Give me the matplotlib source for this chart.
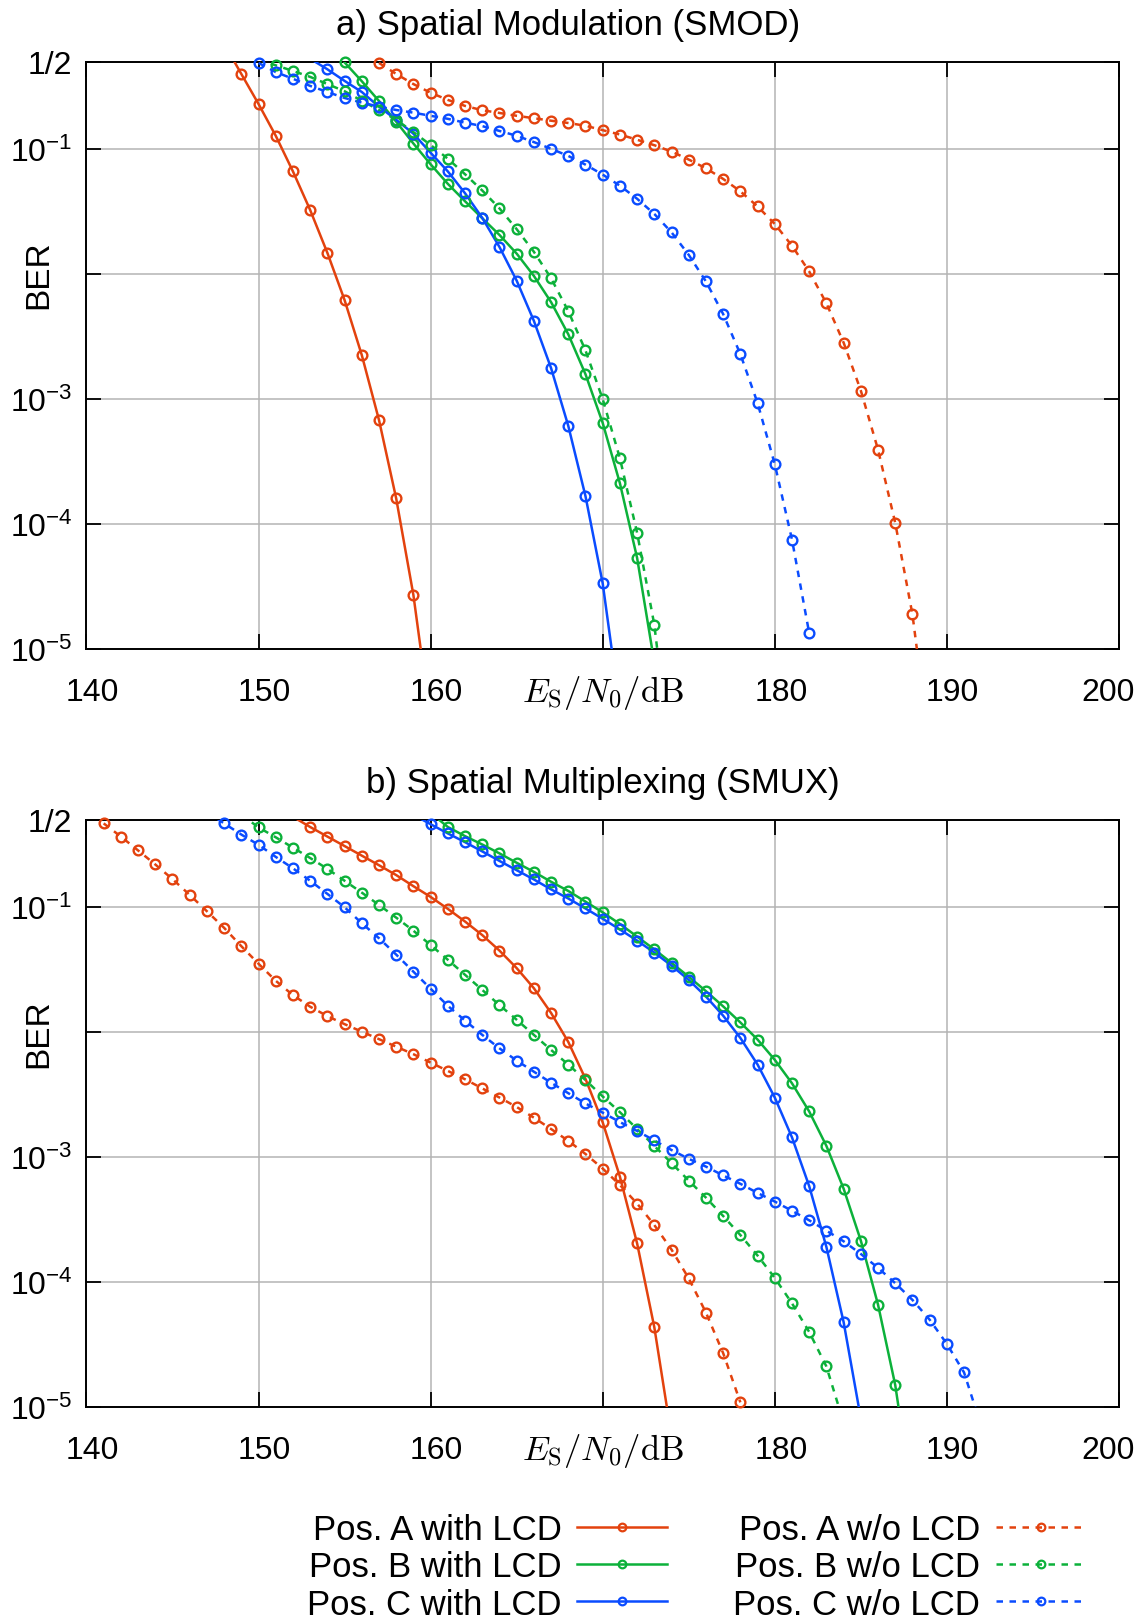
import matplotlib
matplotlib.use("Agg")
import matplotlib.pyplot as plt
import matplotlib.transforms as mtransforms
from matplotlib.lines import Line2D
from matplotlib.ticker import NullLocator
import numpy as np

plt.rcParams["font.family"] = ["Liberation Sans", "DejaVu Sans"]
plt.rcParams["mathtext.fontset"] = "custom"
plt.rcParams["mathtext.rm"] = "Liberation Sans"
plt.rcParams["mathtext.it"] = "Liberation Sans:italic"

# colours of the three positions
c_a = "#e3420e"
c_b = "#0cb13a"
c_c = "#0a4cff"

labels = ["Pos. A with LCD", "Pos. B with LCD", "Pos. C with LCD",
          "Pos. A w/o LCD", "Pos. B w/o LCD", "Pos. C w/o LCD"]

# ---- a) spatial modulation, BER over Es/N0 in dB
smod_a_lcd_x = list(range(148, 161))
smod_a_lcd = [0.70, 0.40, 0.230, 0.128, 0.0664, 0.0326, 0.0148, 0.0062, 2.25e-3,
              6.8e-4, 1.6e-4, 2.7e-5, 2.6e-6]
smod_b_lcd_x = list(range(155, 174))
smod_b_lcd = [0.495, 0.35, 0.243, 0.166, 0.111, 0.0757, 0.0528, 0.0383, 0.028, 0.0206,
              0.0146, 0.00968, 0.00597, 0.0033, 0.00158, 6.44e-4, 2.12e-4, 5.35e-5, 7.8e-6]
smod_c_lcd_x = list(range(153, 172))
smod_c_lcd = [0.53, 0.436, 0.352, 0.287, 0.219, 0.172, 0.133, 0.0936, 0.0664, 0.0444,
              0.0282, 0.0165, 0.00887, 0.00423, 0.00177, 6.1e-4, 1.67e-4, 3.35e-5, 3.3e-6]
smod_a_wo_x = list(range(157, 190))
smod_a_wo = [0.49, 0.40, 0.332, 0.283, 0.248, 0.222, 0.205, 0.195, 0.185, 0.177,
             0.169, 0.162, 0.154, 0.142, 0.131, 0.119, 0.1076, 0.0957, 0.0826, 0.0703,
             0.0578, 0.046, 0.0348, 0.0252, 0.01687, 0.0105, 5.84e-3, 2.83e-3, 1.17e-3,
             3.94e-4, 1.02e-4, 1.89e-5, 1.6e-6]
smod_b_wo_x = list(range(150, 175))
smod_b_wo = [0.52, 0.469, 0.423, 0.379, 0.332, 0.291, 0.244, 0.206, 0.172, 0.137,
             0.108, 0.0839, 0.063, 0.0467, 0.0336, 0.0229, 0.0151, 0.00927, 0.00505,
             0.00245, 1.0e-3, 3.36e-4, 8.5e-5, 1.56e-5, 1.1e-6]
smod_c_wo_x = list(range(150, 183))
smod_c_wo = [0.49, 0.414, 0.366, 0.321, 0.287, 0.257, 0.236, 0.219, 0.206, 0.196,
             0.185, 0.175, 0.163, 0.153, 0.140, 0.128, 0.114, 0.1007, 0.0883, 0.0752,
             0.0626, 0.0510, 0.0401, 0.0303, 0.0216, 0.01426, 0.00873, 0.00479, 0.00229,
             9.3e-4, 3.01e-4, 7.5e-5, 1.34e-5]

# ---- b) spatial multiplexing
smux_a_lcd_x = list(range(152, 175))
smux_a_lcd = [0.53, 0.439, 0.368, 0.309, 0.259, 0.217, 0.181, 0.1475, 0.121, 0.0971,
              0.0769, 0.0599, 0.045, 0.0326, 0.0225, 0.01426, 0.00836, 0.00423, 0.0019,
              6.98e-4, 2.04e-4, 4.35e-5, 5.8e-6]
smux_b_lcd_x = list(range(160, 189))
smux_b_lcd = [0.57, 0.439, 0.371, 0.318, 0.270, 0.227, 0.192, 0.160, 0.135, 0.111,
              0.091, 0.0735, 0.0582, 0.046, 0.0359, 0.0278, 0.0213, 0.0161, 0.01197,
              0.00873, 0.00601, 0.0039, 0.00232, 0.00123, 5.6e-4, 2.15e-4, 6.6e-5,
              1.5e-5, 1.8e-6]
smux_c_lcd_x = list(range(159, 186))
smux_c_lcd = [0.55, 0.462, 0.390, 0.332, 0.280, 0.235, 0.198, 0.167, 0.139, 0.1175,
              0.0978, 0.0809, 0.0664, 0.0541, 0.0434, 0.0341, 0.0262, 0.0193, 0.01356,
              0.0090, 0.00551, 0.0030, 0.00144, 5.86e-4, 1.91e-4, 4.79e-5, 8.1e-6]
smux_a_wo_x = list(range(141, 179))
smux_a_wo = [0.469, 0.368, 0.285, 0.220, 0.168, 0.1256, 0.0929, 0.0684, 0.0488, 0.0353,
             0.0258, 0.0198, 0.0160, 0.01345, 0.0116, 0.0101, 0.0088, 0.00766, 0.00667,
             0.00571, 0.0049, 0.0042, 0.00355, 0.0030, 0.00252, 0.00207, 0.00168,
             0.00135, 0.00106, 8.1e-4, 5.99e-4, 4.25e-4, 2.86e-4, 1.82e-4, 1.07e-4,
             5.7e-5, 2.7e-5, 1.09e-5]
smux_b_wo_x = list(range(149, 185))
smux_b_wo = [0.55, 0.436, 0.363, 0.300, 0.248, 0.203, 0.163, 0.131, 0.1044, 0.0826,
             0.0649, 0.0499, 0.0380, 0.0288, 0.0218, 0.0165, 0.01258, 0.00952, 0.00721,
             0.00551, 0.00414, 0.00306, 0.00229, 0.00168, 0.00123, 8.96e-4, 6.49e-4,
             4.74e-4, 3.38e-4, 2.38e-4, 1.63e-4, 1.08e-4, 6.76e-5, 3.99e-5, 2.11e-5, 7.5e-6]
smux_c_wo_x = list(range(147, 193))
smux_c_wo = [0.58, 0.469, 0.382, 0.316, 0.253, 0.205, 0.163, 0.128, 0.100, 0.0746,
             0.0565, 0.0418, 0.0305, 0.0223, 0.01626, 0.0124, 0.00952, 0.00743, 0.00593,
             0.00483, 0.00394, 0.00325, 0.00269, 0.00227, 0.00191, 0.00162, 0.00136,
             0.00114, 9.7e-4, 8.4e-4, 7.14e-4, 6.12e-4, 5.17e-4, 4.41e-4, 3.72e-4,
             3.12e-4, 2.58e-4, 2.12e-4, 1.68e-4, 1.30e-4, 9.8e-5, 7.2e-5, 5.0e-5,
             3.2e-5, 1.89e-5, 7e-6]

xticks = [140, 150, 160, 170, 180, 190, 200]
xticklabels = ["140", "150", "160", r"$E_{\mathrm{S}}/N_0/\mathrm{dB}$", "180", "190", "200"]
yticks = [0.5, 1e-1, 1e-2, 1e-3, 1e-4, 1e-5]
yticklabels = ["1/2", r"10$^{-1}$", "", r"10$^{-3}$", r"10$^{-4}$", r"10$^{-5}$"]
# small nudges of the x tick labels (pixels), last one pulled inside
xlabel_dx = [6, 6, 6, 0, 6, 5, -11]
xlabel_dy = [0, 0, 0, 4, 0, 0, 0]

dash = (0, (2.6, 2.6))
lw = 1.8
ms = 7


def draw(ax, series, title, title_x):
    for x, y, c, ls in series:
        x = np.array(x)
        y = np.array(y)
        ax.plot(x, y, color=c, ls=ls, lw=lw, zorder=3)
        m = (y <= 0.5) & (y >= 1e-5)
        ax.plot(x[m], y[m], "o", color=c, mfc="none", ms=ms, mew=1.7,
                clip_on=False, zorder=4)
    ax.set_yscale("log")
    ax.set_xlim(140, 200)
    ax.set_ylim(1e-5, 0.5)
    ax.set_xticks(xticks)
    ax.set_xticklabels(xticklabels)
    ax.set_yticks(yticks)
    ax.set_yticklabels(yticklabels)
    ax.yaxis.set_minor_locator(NullLocator())
    ax.grid(True, color="#b4b4b4", lw=1.1)
    ax.tick_params(direction="in", length=11, width=1.3, top=True, right=True,
                   labelsize=23)
    ax.tick_params(axis="x", pad=20)
    ax.tick_params(axis="y", pad=10)
    for lab, dx, dy in zip(ax.get_xticklabels(), xlabel_dx, xlabel_dy):
        off = mtransforms.ScaledTranslation(dx / 100, dy / 100, ax.figure.dpi_scale_trans)
        lab.set_transform(lab.get_transform() + off)
    xl = ax.get_xticklabels()[3]
    xl.set_math_fontfamily("cm")
    xl.set_fontsize(25)
    for s in ax.spines.values():
        s.set_linewidth(1.4)
    ax.text(-0.046, 0.6384, "BER", rotation=90, ha="center", va="center",
            fontsize=24, transform=ax.transAxes)
    ax.text(title_x, 1.064, title, ha="center", va="center", fontsize=25,
            transform=ax.transAxes)


fig = plt.figure(figsize=(11.42, 16.24), dpi=100)
ax_a = fig.add_axes([0.0757, 0.5998, 0.9041, 0.3615])
ax_b = fig.add_axes([0.0757, 0.1330, 0.9041, 0.3615])

draw(ax_a, [
    (smod_a_lcd_x, smod_a_lcd, c_a, "-"),
    (smod_b_lcd_x, smod_b_lcd, c_b, "-"),
    (smod_c_lcd_x, smod_c_lcd, c_c, "-"),
    (smod_a_wo_x, smod_a_wo, c_a, dash),
    (smod_b_wo_x, smod_b_wo, c_b, dash),
    (smod_c_wo_x, smod_c_wo, c_c, dash),
], "a) Spatial Modulation (SMOD)", 0.466)

draw(ax_b, [
    (smux_a_lcd_x, smux_a_lcd, c_a, "-"),
    (smux_b_lcd_x, smux_b_lcd, c_b, "-"),
    (smux_c_lcd_x, smux_c_lcd, c_c, "-"),
    (smux_a_wo_x, smux_a_wo, c_a, dash),
    (smux_b_wo_x, smux_b_wo, c_b, dash),
    (smux_c_wo_x, smux_c_wo, c_c, dash),
], "b) Spatial Multiplexing (SMUX)", 0.5)

handles = []
for c, ls in [(c_a, "-"), (c_b, "-"), (c_c, "-"), (c_a, dash), (c_b, dash), (c_c, dash)]:
    handles.append(Line2D([], [], color=c, ls=ls, lw=lw, marker="o", mfc="none",
                          ms=5.5, mew=1.6))
fig.legend(handles, labels, ncol=2, markerfirst=False, loc="center",
           bbox_to_anchor=(0.6100, 0.0345), frameon=False, fontsize=25,
           numpoints=1, handlelength=2.6, handletextpad=0.45, columnspacing=1.9,
           labelspacing=0.12, borderpad=0)

fig.savefig("out.png", dpi=100)
